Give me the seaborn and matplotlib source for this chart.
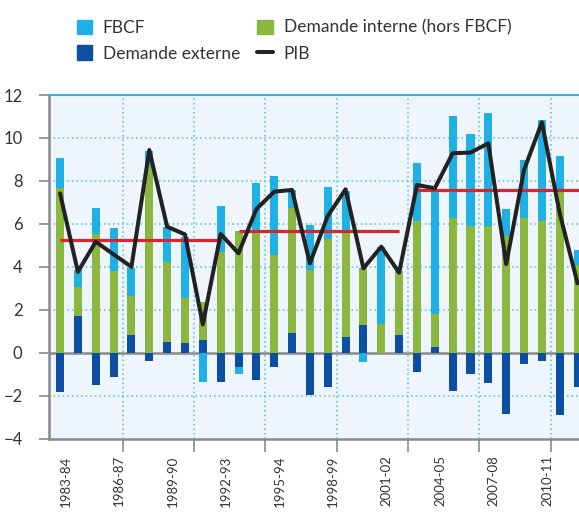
import numpy as np
import pandas as pd
import matplotlib
matplotlib.use("Agg")
import matplotlib.pyplot as plt
import matplotlib.patches as mpatches
import matplotlib.transforms as mtransforms
from matplotlib.lines import Line2D
import seaborn as sns

# ------------------------------------------------------------------
# Data
# ------------------------------------------------------------------
annees = ["1983-84", "1984-85", "1985-86", "1986-87", "1987-88", "1988-89",
          "1989-90", "1990-91", "1991-92", "1992-93", "1993-94", "1994-95",
          "1995-96", "1996-97", "1997-98", "1998-99", "1999-00", "2000-01",
          "2001-02", "2002-03", "2003-04", "2004-05", "2005-06", "2006-07",
          "2007-08", "2008-09", "2009-10", "2010-11", "2011-12", "2012-13"]

fbcf = [1.38, 0.78, 1.21, 2.01, 1.30, 0.75, 1.65, 2.84, -1.37, 2.14,
        -0.33, 2.26, 3.68, 0.85, 2.10, 2.42, 1.91, -0.42, 3.59, 0.00,
        2.72, 5.78, 4.73, 4.29, 5.26, 1.24, 2.69, 4.71, 1.58, 0.70]

demande_interne = [7.69, 1.35, 5.53, 3.80, 1.82, 8.65, 3.72, 2.10, 1.77, 4.69,
                   5.67, 5.64, 4.55, 5.82, 3.85, 5.30, 4.91, 2.67, 1.35, 2.96,
                   6.13, 1.52, 6.29, 5.90, 5.90, 5.45, 6.29, 6.13, 7.58, 4.08]

demande_externe = [-1.82, 1.71, -1.51, -1.12, 0.82, -0.36, 0.50, 0.45, 0.59, -1.35,
                   -0.67, -1.29, -0.67, 0.93, -1.96, -1.57, 0.73, 1.29, 0.00, 0.84,
                   -0.89, 0.28, -1.79, -0.99, -1.40, -2.84, -0.50, -0.36, -2.89, -1.60]

pib = [7.42, 3.77, 5.17, 4.58, 4.00, 9.44, 5.87, 5.51, 1.32, 5.53,
       4.63, 6.69, 7.50, 7.58, 4.16, 6.37, 7.61, 3.93, 4.94, 3.73,
       7.81, 7.66, 9.29, 9.32, 9.75, 4.13, 8.51, 10.73, 6.49, 3.23]

# average growth per decade
periode_debut = ["1983-84", "1993-94", "2003-04"]
periode_fin = ["1992-93", "2002-03", "2012-13"]
moyenne_pib = [5.25, 5.65, 7.60]

# axis labels, one every third year (the original prints "1995-94")
labels_axe = ["1983-84", "1986-87", "1989-90", "1992-93", "1995-94",
              "1998-99", "2001-02", "2004-05", "2007-08", "2010-11"]

# ------------------------------------------------------------------
# Colours
# ------------------------------------------------------------------
c_fbcf = "#1FB0E6"
c_int = "#8BB73F"
c_ext = "#0C4EA2"
c_pib = "#222222"
c_moy = "#D8262E"
c_grid = "#4DBDEA"
c_gris = "#8A8A8A"

# ------------------------------------------------------------------
# Stacking (positives on positives, negatives on negatives)
# ------------------------------------------------------------------
df = pd.DataFrame({"annee": annees, "fbcf": fbcf, "interne": demande_interne,
                   "externe": demande_externe, "pib": pib})
df["pos"] = np.arange(len(df))
ext_pos = df["externe"].clip(lower=0)
ext_neg = df["externe"].clip(upper=0)
df["haut_vert"] = ext_pos + df["interne"]
df["haut_bleu"] = df["haut_vert"] + df["fbcf"].clip(lower=0)
df["bas_bleu"] = ext_neg + df["fbcf"].clip(upper=0)

sns.set_style("white")
plt.rcParams["font.family"] = ["Lato", "DejaVu Sans"]

fig = plt.figure(figsize=(5.79, 5.13), dpi=100)
ax = fig.add_axes([49 / 579, 74.3 / 513, 1 - 49 / 579, (438.7 - 95) / 513])
ax.set_facecolor("#EEF5FC")

bar_kw = dict(width=0.45, saturation=1, errorbar=None, ax=ax, zorder=3,
              linewidth=0)
sns.barplot(data=df, x="annee", y="haut_bleu", color=c_fbcf, **bar_kw)
sns.barplot(data=df, x="annee", y="bas_bleu", color=c_fbcf, **bar_kw)
sns.barplot(data=df, x="annee", y="haut_vert", color=c_int, **bar_kw)
sns.barplot(data=df, x="annee", y="externe", color=c_ext, **bar_kw)

# decade averages
for d, f, m in zip(periode_debut, periode_fin, moyenne_pib):
    x0 = annees.index(d)
    x1 = annees.index(f) + (0.5 if f == annees[-1] else 0)
    ax.plot([x0, x1], [m, m], color=c_moy, lw=2.3, zorder=4,
            solid_capstyle="butt")

sns.lineplot(data=df, x="pos", y="pib", color=c_pib, lw=2.9, ax=ax,
             zorder=5, legend=False)

# ------------------------------------------------------------------
# Axes styling
# ------------------------------------------------------------------
ax.set_xlim(-0.62, 29.08)
ax.set_ylim(-4, 12)
ax.set_xlabel("")
ax.set_ylabel("")

ax.axhline(0, color=c_gris, lw=1.8, zorder=2)
for y in [-2, 2, 4, 6, 8, 10]:
    ax.axhline(y, color=c_grid, lw=1.1, ls=(0, (1, 2)), zorder=1)
grid_x = [3.5, 7.5, 11.5, 15.5, 19.5, 23.5, 27.5]
for x in grid_x:
    ax.axvline(x, color=c_grid, lw=1.1, ls=(0, (1, 2)), zorder=1)

ax.set_yticks([-4, -2, 0, 2, 4, 6, 8, 10, 12])
ax.tick_params(axis="y", direction="out", length=7, width=1.2, color=c_gris,
               pad=12, labelsize=12, labelcolor="#333333", left=True)

ax.set_xticks(df["pos"][::3])
ax.set_xticklabels(labels_axe, rotation=90, va="top", ha="center")
ax.set_xticks(grid_x, minor=True)
ax.tick_params(axis="x", which="major", length=0, pad=12, labelsize=9.5,
               labelcolor="#333333")
ax.tick_params(axis="x", which="minor", direction="out", length=9,
               width=1.2, color=c_gris, bottom=True)
shift = mtransforms.ScaledTranslation(5.5 / 100, 0, fig.dpi_scale_trans)
for lab in ax.get_xticklabels():
    lab.set_transform(lab.get_transform() + shift)

for s in ["left", "bottom"]:
    ax.spines[s].set_color(c_gris)
    ax.spines[s].set_linewidth(1.8)
ax.spines["top"].set_color("#3AAEE0")
ax.spines["top"].set_linewidth(1.5)
ax.spines["right"].set_visible(False)

# ------------------------------------------------------------------
# Legend
# ------------------------------------------------------------------
handles = [mpatches.Patch(color=c_fbcf, label="FBCF"),
           mpatches.Patch(color=c_ext, label="Demande externe"),
           mpatches.Patch(color=c_int, label="Demande interne (hors FBCF)"),
           Line2D([], [], color=c_pib, lw=2.9, label="PIB")]
fig.legend(handles=handles, ncol=2, loc="upper left",
           bbox_to_anchor=(68 / 579, 1 - 11 / 513), frameon=False,
           fontsize=12.5, handlelength=0.9, handleheight=0.9,
           handletextpad=0.6, columnspacing=1.0, labelspacing=0.55,
           borderpad=0, labelcolor="#333333")

fig.savefig("out.png", dpi=100)
